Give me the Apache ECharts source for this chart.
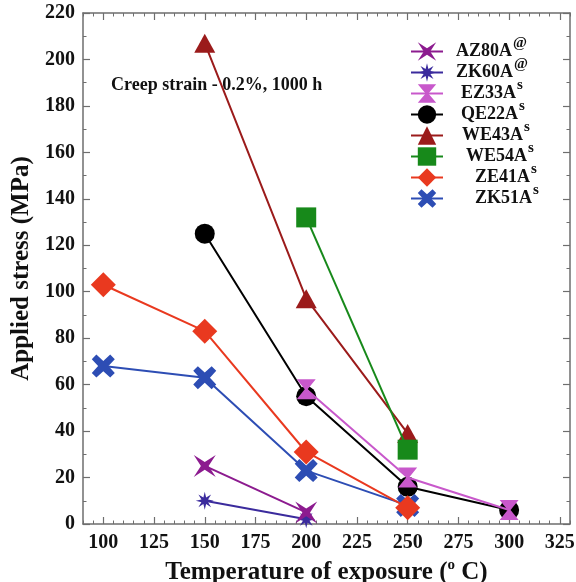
<!DOCTYPE html>
<html>
<head>
<meta charset="utf-8">
<script src="https://cdn.jsdelivr.net/npm/echarts@6/dist/echarts.min.js"></script>
<style>
  html, body { margin: 0; padding: 0; background: #fff; }
  #chart { width: 576px; height: 582px; }
</style>
</head>
<body>
<div id="chart"></div>
<script>
// Exposure temperatures (deg C)
const temps = [100, 150, 200, 250, 300];

// Applied stress (MPa) for 0.2 % creep strain in 1000 h, per alloy
const az80a = [null, 25, 5, null, null];
const zk60a = [null, 10, 2, null, null];
const ez33a = [null, null, 58, 20, 6];
const qe22a = [null, 125, 55, 16, 6];
const we43a = [null, 207, 97, 39, null];
const we54a = [null, null, 132, 32, null];
const ze41a = [103, 83, 31, 7, null];
const zk51a = [68, 63, 23, 8, null];

// Tick labels
const xTicks = [100, 125, 150, 175, 200, 225, 250, 275, 300, 325];
const yTicks = [0, 20, 40, 60, 80, 100, 120, 140, 160, 180, 200, 220];

const FONT = '"Liberation Serif", "Times New Roman", serif';

// Custom marker shapes
function starPath(points, rOut, rIn) {
  let d = '';
  for (let i = 0; i < points * 2; i++) {
    const r = i % 2 === 0 ? rOut : rIn;
    const a = Math.PI * i / points - Math.PI / 2;
    const x = (10 + r * Math.cos(a)).toFixed(2);
    const y = (10 + r * Math.sin(a)).toFixed(2);
    d += (i === 0 ? 'M' : 'L') + x + ',' + y + ' ';
  }
  return 'path://' + d + 'Z';
}
const SYM_AZ80A = 'path://M0,0 L10,6.5 L20,0 L13.5,10 L20,20 L10,13.5 L0,20 L6.5,10 Z';
const SYM_ZK60A = starPath(8, 10, 4);
const SYM_EZ33A = 'path://M0,0 L20,0 L11.5,10 L20,20 L0,20 L8.5,10 Z';
const SYM_ZK51A = 'path://M4,0 L10,5.5 L16,0 L20,4 L14.5,10 L20,16 L16,20 L10,14.5 L4,20 L0,16 L5.5,10 L0,4 Z';

function pairs(values) {
  const out = [];
  values.forEach((v, i) => { if (v !== null) out.push([temps[i], v]); });
  return out;
}

const alloys = [
  { name: 'AZ80A', data: az80a, color: '#8c1b8f', symbol: SYM_AZ80A, size: 22, sup: '@', off: 0 },
  { name: 'ZK60A', data: zk60a, color: '#3b2b9d', symbol: SYM_ZK60A, size: 18, sup: '@', off: 0 },
  { name: 'EZ33A', data: ez33a, color: '#c858cb', symbol: SYM_EZ33A, size: [19, 20], sup: 's', off: 5 },
  { name: 'QE22A', data: qe22a, color: '#000000', symbol: 'circle', size: 20, sup: 's', off: 5 },
  { name: 'WE43A', data: we43a, color: '#9b1b1b', symbol: 'triangle', size: [21, 19], sup: 's', off: 6 },
  { name: 'WE54A', data: we54a, color: '#17891a', symbol: 'rect', size: 20, sup: 's', off: 10 },
  { name: 'ZE41A', data: ze41a, color: '#e9391f', symbol: 'diamond', size: 25, sup: 's', off: 19 },
  { name: 'ZK51A', data: zk51a, color: '#2d4db4', symbol: SYM_ZK51A, size: 23, sup: 's', off: 19 }
];

// drawing order (later series sit on top)
const drawOrder = ['WE43A', 'WE54A', 'QE22A', 'EZ33A', 'ZK51A', 'ZE41A', 'ZK60A', 'AZ80A'];

const series = drawOrder.map((n, k) => {
  const a = alloys.find(x => x.name === n);
  return {
    name: a.name,
    type: 'line',
    data: pairs(a.data),
    xAxisIndex: 0,
    yAxisIndex: 0,
    symbol: a.symbol,
    symbolSize: a.size,
    z: 2 + k,
    lineStyle: { color: a.color, width: 2 },
    itemStyle: { color: a.color },
    emphasis: { disabled: true },
    animation: false
  };
});

const rich = {
  nm: { fontFamily: FONT, fontWeight: 'bold', fontSize: 18, color: '#111', lineHeight: 18 },
  sup: { fontFamily: FONT, fontWeight: 'bold', fontSize: 15, color: '#111', lineHeight: 18, padding: [0, 0, 16, 1] }
};
alloys.forEach(a => { rich['sp' + a.off] = { width: 8 + a.off, lineHeight: 18 }; });

const chart = echarts.init(document.getElementById('chart'), null, { renderer: 'canvas' });

const axisLineStyle = { color: '#6e6e6e', width: 1.5 };

chart.setOption({
  animation: false,
  backgroundColor: '#ffffff',
  grid: { left: 83, right: 6, top: 13, bottom: 58, containLabel: false, outerBoundsMode: 'none' },
  legend: {
    data: alloys.map(a => a.name),
    orient: 'vertical',
    left: 405,
    top: 31,
    itemWidth: 32,
    itemHeight: 23,
    itemGap: -10,
    selectedMode: false,
    formatter: name => {
      const a = alloys.find(x => x.name === name);
      return '{sp' + a.off + '| }{nm|' + name + '}{sup|' + a.sup + '}';
    },
    textStyle: { rich: rich }
  },
  xAxis: [
    {
      type: 'value', position: 'bottom', min: 90, max: 330,
      axisLine: { show: true, lineStyle: axisLineStyle },
      axisTick: { show: true, inside: true, length: 7, customValues: xTicks, lineStyle: { color: '#6e6e6e', width: 1.2 } },
      axisLabel: {
        customValues: xTicks, margin: 9,
        fontFamily: FONT, fontWeight: 'bold', fontSize: 20, color: '#111'
      },
      splitLine: { show: false },
      name: 'Temperature of exposure ({deg|o} C)',
      nameLocation: 'middle',
      nameGap: 28,
      nameTextStyle: {
        fontFamily: FONT, fontWeight: 'bold', fontSize: 25, color: '#111',
        rich: {
          deg: { fontFamily: FONT, fontWeight: 'bold', fontSize: 15, color: '#111', padding: [0, 0, 14, 0], lineHeight: 25 }
        },
        lineHeight: 25
      }
    },
    {
      type: 'value', position: 'bottom', min: 90, max: 330, interval: 5,
      axisLine: { show: false },
      axisTick: { show: true, inside: true, length: 3.5, lineStyle: { color: '#6e6e6e', width: 1 } },
      axisLabel: { show: false },
      splitLine: { show: false }
    },
    {
      type: 'value', position: 'top', min: 90, max: 330,
      axisLine: { show: true, lineStyle: axisLineStyle },
      axisTick: { show: true, inside: true, length: 7, customValues: xTicks, lineStyle: { color: '#6e6e6e', width: 1.2 } },
      axisLabel: { show: false },
      splitLine: { show: false }
    },
    {
      type: 'value', position: 'top', min: 90, max: 330, interval: 5,
      axisLine: { show: false },
      axisTick: { show: true, inside: true, length: 3.5, lineStyle: { color: '#6e6e6e', width: 1 } },
      axisLabel: { show: false },
      splitLine: { show: false }
    }
  ],
  yAxis: [
    {
      type: 'value', position: 'left', min: 0, max: 220, interval: 20,
      axisLine: { show: true, lineStyle: axisLineStyle },
      axisTick: { show: true, inside: true, length: 7, lineStyle: { color: '#6e6e6e', width: 1.2 } },
      minorTick: { show: true, splitNumber: 2, length: 3.5, lineStyle: { color: '#6e6e6e', width: 1 } },
      axisLabel: {
        margin: 8,
        fontFamily: FONT, fontWeight: 'bold', fontSize: 20, color: '#111',
        formatter: v => (yTicks.indexOf(v) >= 0 ? String(v) : '')
      },
      splitLine: { show: false },
      name: 'Applied stress (MPa)',
      nameLocation: 'middle',
      nameGap: 47,
      nameTextStyle: { fontFamily: FONT, fontWeight: 'bold', fontSize: 25, color: '#111' }
    },
    {
      type: 'value', position: 'right', min: 0, max: 220, interval: 20,
      axisLine: { show: true, lineStyle: axisLineStyle },
      axisTick: { show: true, inside: true, length: 7, lineStyle: { color: '#6e6e6e', width: 1.2 } },
      minorTick: { show: true, splitNumber: 2, length: 3.5, lineStyle: { color: '#6e6e6e', width: 1 } },
      axisLabel: { show: false },
      splitLine: { show: false }
    }
  ],
  graphic: [
    {
      type: 'text',
      left: 111,
      top: 76,
      z: 1,
      style: {
        text: 'Creep strain - 0.2%, 1000 h',
        font: 'bold 18px ' + FONT,
        fill: '#111'
      }
    }
  ],
  series: series
});
</script>
</body>
</html>
